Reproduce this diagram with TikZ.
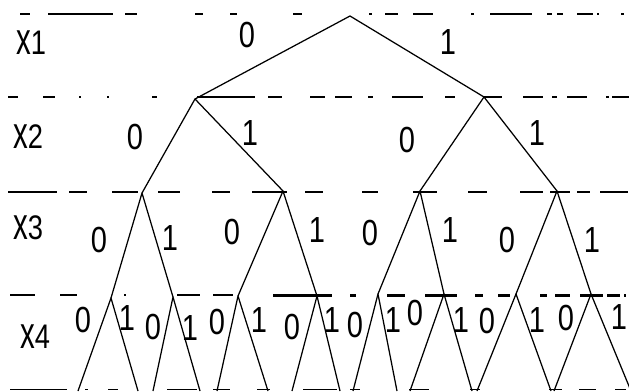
\documentclass[tikz,border=0pt]{standalone}
\usepackage{fontspec}
\usepackage{graphicx}
\setmainfont{Liberation Sans}
\newcommand{\dg}[1]{\scalebox{0.88}[1.1]{#1}}
\begin{document}
\begin{tikzpicture}[x=1pt,y=-1pt,
  edge/.style={line width=1.25pt, line join=round},
  hl/.style={line width=1.7pt},
  hlt/.style={line width=3pt},
  lab/.style={inner sep=0pt, font=\fontsize{33}{33}\selectfont},
  var/.style={inner sep=0pt, font=\fontsize{31}{31}\selectfont}]
\useasboundingbox (0,0) rectangle (629,391);
% level separators (irregular dashes)
\foreach \a/\b in {20/30,48/113,125/137,195/203,230/237,293/302,369/372,385/398,413/433,471/474,490/532,547/552,557/563,577/593,597/599,621/624}
  \draw[hl] (\a,14) -- (\b,14);
\foreach \a/\b in {8/18,43/55,79/81,107/109,152/157,197/255,268/282,310/325,335/352,368/373,392/423,445/455,483/502,523/543,552/557,567/587,606/609,612/629}
  \draw[hl] (\a,97) -- (\b,97);
\foreach \a/\b in {8/57,69/87,112/138,158/180,212/230,252/287,305/323,362/378,413/437,468/487,520/543,550/570,577/590,600/628}
  \draw[hl] (\a,192) -- (\b,192);
\foreach \a/\b in {10/35,60/77,124/126,177/200,213/233}
  \draw[hl] (\a,295) -- (\b,295);
\foreach \a/\b in {273/332,350/356,387/405,425/457,475/483,498/510,540/547,555/570,580/603,607/620,624/626}
  \draw[hlt] (\a,295) -- (\b,295);
\foreach \a/\b in {10/67,85/88,108/118,167/197,213/230,257/270,303/337,350/360,409/429,470/480,549/562,579/596,615/626}
  \draw[hl] (\a,389.5) -- (\b,389.5);
% tree nodes
\coordinate (r) at (350,16);
\coordinate (a) at (195,99);
\coordinate (b) at (484,97);
\coordinate (c1) at (142,193);
\coordinate (c2) at (283,191);
\coordinate (c3) at (420,191);
\coordinate (c4) at (557,191);
\coordinate (d1) at (111,298);
\coordinate (d2) at (173,297);
\coordinate (d3) at (238,296);
\coordinate (d4) at (317,296);
\coordinate (d5) at (378,294);
\coordinate (d6) at (444,294);
\coordinate (d7) at (516,294);
\coordinate (d8) at (591,294);
\foreach \n/\x in {1/78,2/138,3/153,4/200,5/217,6/268,7/292,8/340,9/353,10/397,11/410,12/472,13/477,14/551,15/554,16/631}
  \coordinate (l\n) at (\x,391);
% edges
\draw[edge] (a) -- (r) -- (b);
\draw[edge] (c1) -- (a) -- (c2);
\draw[edge] (c3) -- (b) -- (c4);
\draw[edge] (d1) -- (c1) -- (d2);
\draw[edge] (d3) -- (c2) -- (d4);
\draw[edge] (d5) -- (c3) -- (d6);
\draw[edge] (d7) -- (c4) -- (d8);
\draw[edge] (l1) -- (d1) -- (l2);
\draw[edge] (l3) -- (d2) -- (l4);
\draw[edge] (l5) -- (d3) -- (l6);
\draw[edge] (l7) -- (d4) -- (l8);
\draw[edge] (l9) -- (d5) -- (l10);
\draw[edge] (l11) -- (d6) -- (l12);
\draw[edge] (l13) -- (d7) -- (l14);
\draw[edge] (l15) -- (d8) -- (l16);
% variable labels
\node[var] (x1) at (31,43) {\scalebox{0.95}[1.45]{x}\dg{1}};
\node[var] (x2) at (28,137) {\scalebox{0.95}[1.45]{x}\dg{2}};
\node[var] (x3) at (28,228) {\scalebox{0.95}[1.45]{x}\dg{3}};
\node[var] (x4) at (35,337) {\scalebox{0.95}[1.45]{x}\dg{4}};
% edge labels
\node[lab] (e1) at (247,35) {\dg{0}};
\node[lab] (e2) at (448,42) {\dg{1}};
\node[lab] (e3) at (135,137) {\dg{0}};
\node[lab] (e4) at (250,133) {\dg{1}};
\node[lab] (e5) at (407,140) {\dg{0}};
\node[lab] (e6) at (537,133) {\dg{1}};
\foreach \i/\x/\y/\t in {7/99/240/0,8/170/238/1,9/232/232/0,10/317/230/1,11/370/233/0,12/450/230/1,13/507/240/0,14/592/240/1,
  15/83/320/0,16/127/318/1,17/153/327/0,18/190/328/1,19/217/322/0,20/259/320/1,21/292/327/0,22/332/320/1,
  23/355/325/0,24/393/320/1,25/415/313/0,26/461/320/1,27/487/321/0,28/537/320/1,29/566/318/0,30/619/317/1}
  \node[lab] (e\i) at (\x,\y) {\dg{\t}};
\end{tikzpicture}
\end{document}
